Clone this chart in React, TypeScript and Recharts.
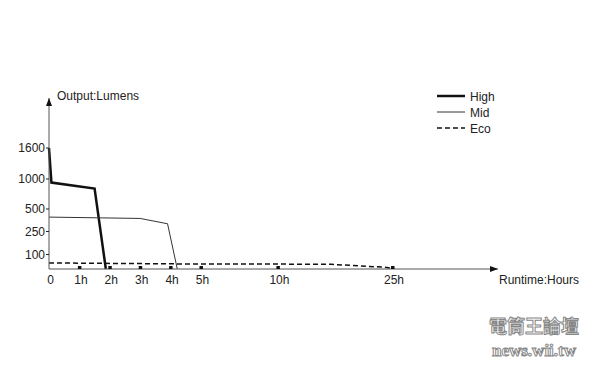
import { LineChart, Line, XAxis, YAxis } from "recharts";

const FONT = "'Liberation Sans', Arial, sans-serif";

// axis tick labels and where they sit on the (non-linear) printed axes
const xTickHours = [0, 1, 2, 3, 4, 5, 10, 25];
const xTickPos = [0, 1, 2, 3, 4, 5, 7.53, 11.3];
const yTickLumens = [0, 100, 250, 500, 1000, 1600];
const yTickPos = [0, 14.5, 37.5, 60, 90, 121];

// runtime curves
const highHours = [0, 0.08, 1.5, 1.87];
const highLumens = [1600, 940, 840, 0];
const midHours = [0, 3.0, 3.9, 4.22];
const midLumens = [410, 395, 336, 0];
const ecoHours = [0, 5, 10, 17, 24, 25];
const ecoLumens = [42, 34, 34, 32, 12, 5];

const interp = (v: number, from: number[], to: number[]) => {
  for (let i = 1; i < from.length; i++) {
    if (v <= from[i]) {
      const t = (v - from[i - 1]) / (from[i] - from[i - 1]);
      return to[i - 1] + t * (to[i] - to[i - 1]);
    }
  }
  return to[to.length - 1];
};

const toPoints = (hours: number[], lumens: number[]) =>
  hours.map((h, i) => ({
    x: interp(h, xTickHours, xTickPos),
    y: interp(lumens[i], yTickLumens, yTickPos),
  }));

const series = [
  { name: "High", data: toPoints(highHours, highLumens), width: 2.5, color: "#111", dash: undefined },
  { name: "Mid", data: toPoints(midHours, midLumens), width: 1, color: "#333", dash: undefined },
  { name: "Eco", data: toPoints(ecoHours, ecoLumens), width: 1.5, color: "#111", dash: "5 3" },
];

const XTick = (props: any) => {
  const { x, y, payload } = props;
  const i = xTickPos.indexOf(payload.value);
  const h = xTickHours[i];
  return (
    <g>
      {h !== 0 && <rect x={x - 1.5} y={y - 3} width={3.5} height={3} fill="#111" />}
      <text x={x + 1.5} y={y + 14.5} textAnchor="middle" fontSize={12} fontFamily={FONT} fill="#222">
        {h === 0 ? "0" : `${h}h`}
      </text>
    </g>
  );
};

export default function App() {
  return (
    <div style={{ position: "absolute", left: 0, top: 0, width: 600, height: 375, background: "#fff" }}>
      <LineChart width={600} height={375} margin={{ top: 98, right: 102, bottom: 76, left: 0 }}>
        <defs>
          <marker id="arrowHead" viewBox="0 0 8 6" refX={8} refY={3} markerWidth={8} markerHeight={6}
            markerUnits="userSpaceOnUse" orient="auto-start-reverse">
            <path d="M0,0 L8,3 L0,6 z" fill="#111" />
          </marker>
        </defs>
        <XAxis
          type="number"
          dataKey="x"
          domain={[0, 14.77]}
          ticks={xTickPos}
          interval={0}
          height={30}
          tickSize={0}
          tickMargin={0}
          tickLine={false}
          axisLine={{ stroke: "#555", markerEnd: "url(#arrowHead)" }}
          tick={<XTick />}
        />
        <YAxis
          type="number"
          dataKey="y"
          domain={[0, 171]}
          ticks={yTickPos.slice(1)}
          interval={0}
          width={49}
          tickSize={3}
          tickMargin={1}
          tickLine={{ stroke: "#222" }}
          axisLine={{ stroke: "#555", markerStart: "url(#arrowHead)" }}
          tick={{ fontSize: 12, fill: "#222", fontFamily: FONT }}
          tickFormatter={(v: number) => String(yTickLumens[yTickPos.indexOf(v)])}
        />
        {series.map((s) => (
          <Line
            key={s.name}
            name={s.name}
            data={s.data}
            dataKey="y"
            type="linear"
            stroke={s.color}
            strokeWidth={s.width}
            strokeDasharray={s.dash}
            dot={false}
            activeDot={false}
            isAnimationActive={false}
          />
        ))}
        {series.map((s, i) => (
          <g key={`lg-${s.name}`}>
            <line x1={437} x2={465} y1={96 + i * 16} y2={96 + i * 16} stroke={s.color} strokeWidth={s.width} strokeDasharray={s.dash} />
            <text x={470} y={101 + i * 16} fontSize={12} fontFamily={FONT} fill="#222">
              {s.name}
            </text>
          </g>
        ))}
        <text x={57} y={100} fontSize={12} fontFamily={FONT} fill="#222">Output:Lumens</text>
        <text x={499} y={283.5} fontSize={12} fontFamily={FONT} fill="#222">Runtime:Hours</text>
      </LineChart>
      <div
        style={{
          position: "absolute",
          left: 484,
          top: 313,
          width: 100,
          textAlign: "center",
          color: "#fff",
          WebkitTextStroke: "1px #888",
          fontWeight: "bold",
          lineHeight: "25px",
        }}
      >
        <div style={{ fontSize: 18, fontFamily: "'Noto Sans CJK TC', sans-serif" }}>電筒王論壇</div>
        <div style={{ fontSize: 17, fontFamily: "'Liberation Serif', serif" }}>news.wii.tw</div>
      </div>
    </div>
  );
}
